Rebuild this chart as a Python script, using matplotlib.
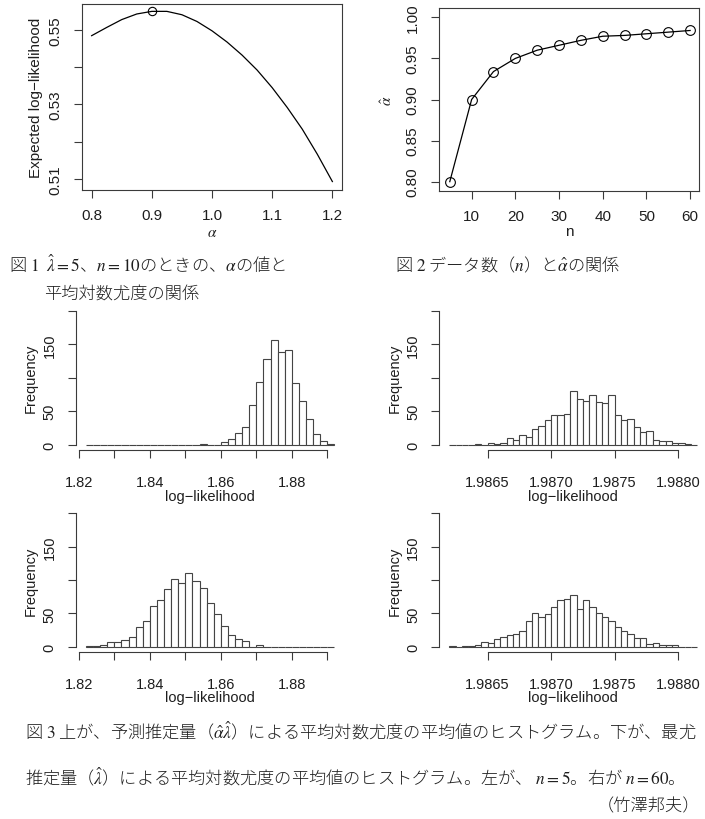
import numpy as np
import matplotlib.pyplot as plt

plt.rcParams["font.family"] = ["Liberation Sans", "DejaVu Sans"]
plt.rcParams["mathtext.fontset"] = "stix"

# Fig 1: expected log-likelihood vs alpha (lambda-hat = 5, n = 10)
alpha = [0.800, 0.825, 0.850, 0.875, 0.900, 0.925, 0.950, 0.975,
         1.000, 1.025, 1.050, 1.075, 1.100, 1.125, 1.150, 1.175, 1.200]
exp_ll = [0.5484, 0.5506, 0.5527, 0.5542, 0.5549, 0.5549, 0.5540, 0.5522,
          0.5497, 0.5467, 0.5432, 0.5392, 0.5345, 0.5292, 0.5234, 0.5167, 0.5094]
alpha_best = 0.9
exp_ll_best = 0.5549

# Fig 2: number of data n vs alpha-hat
n_data = [5, 10, 15, 20, 25, 30, 35, 40, 45, 50, 55, 60]
alpha_hat = [0.800, 0.900, 0.934, 0.950, 0.960, 0.966, 0.972, 0.977, 0.978, 0.980, 0.982, 0.984]

# Fig 3: histograms of mean log-likelihood (bin counts)
left_lo, left_w = 1.822, 0.002      # n = 5
right_lo, right_w = 1.98620, 0.00005  # n = 60
cnt_n5_pred = [0, 0, 0, 0, 0, 0, 0, 0, 0, 0, 0, 0, 0, 0, 0, 0,
               1, 0, 0, 4, 9, 18, 27, 60, 93, 128, 157, 139, 142, 92, 65, 39, 16, 5, 1]
cnt_n5_mle = [1, 1, 2, 7, 7, 10, 14, 30, 38, 61, 70, 86, 101, 95, 110, 98, 88, 66, 49,
              31, 18, 11, 8, 0, 2, 0, 0, 0, 0, 0, 0, 0, 0, 0, 0]
cnt_n60_pred = [0, 0, 0, 0, 1, 0, 3, 1, 3, 10, 7, 15, 11, 24, 28, 37, 45, 45, 46, 81,
                69, 66, 75, 64, 62, 75, 45, 37, 39, 26, 19, 21, 7, 5, 5, 2, 3, 1, 0]
cnt_n60_mle = [1, 0, 1, 1, 2, 7, 6, 11, 15, 17, 19, 23, 38, 51, 45, 49, 59, 70, 72, 78,
               56, 70, 59, 51, 45, 39, 29, 24, 19, 13, 13, 4, 5, 3, 2, 2, 0, 0, 0]

W, H = 705, 820
fig = plt.figure(figsize=(W / 100, H / 100), dpi=100)

line_c = '#3a3a3a'
text_c = '#1e1e1e'


def px_axes(x0, x1, y0, y1):
    return fig.add_axes([x0 / W, 1 - y1 / H, (x1 - x0) / W, (y1 - y0) / H])


def style(ax, fs, xpad, ypad):
    ax.tick_params(direction='out', length=5.8, width=0.8, colors=line_c,
                   labelcolor=text_c, labelsize=fs)
    ax.tick_params(axis='x', pad=xpad)
    ax.tick_params(axis='y', pad=ypad)
    for s in ax.spines.values():
        s.set_color(line_c)
        s.set_linewidth(0.8)
    for lab in ax.get_yticklabels():
        lab.set_rotation(90)
        lab.set_va('center')


def place_labels(ax, xl, yl, fs, ycoord, xcoord):
    ax.set_ylabel(yl, fontsize=fs, color=text_c)
    ax.yaxis.set_label_coords(ycoord, 0.5)
    ax.yaxis.label.set_va('center')
    ax.set_xlabel(xl, fontsize=fs, color=text_c)
    ax.xaxis.set_label_coords(0.5, xcoord)
    ax.xaxis.label.set_va('center')


# ---- Fig 1
ax = px_axes(82, 342, 4.7, 190.7)
ax.plot(alpha, exp_ll, color='black', lw=0.9)
ax.plot([alpha_best], [exp_ll_best], 'o', mfc='none', mec='black', ms=6, mew=0.8)
ax.set_xlim(0.784, 1.216)
ax.set_ylim(0.50722, 0.55695)
ax.set_xticks([0.8, 0.9, 1.0, 1.1, 1.2])
ax.set_xticklabels(['0.8', '0.9', '1.0', '1.1', '1.2'])
ax.set_yticks([0.51, 0.52, 0.53, 0.54, 0.55])
ax.set_yticklabels(['0.51', '', '0.53', '', '0.55'])
style(ax, 11, 7.5, 8.5)
place_labels(ax, r'$\alpha$', 'Expected log\u2212likelihood', 11, -0.177, -0.225)

# ---- Fig 2
ax = px_axes(439.3, 699.3, 9.3, 191.7)
ax.plot(n_data, alpha_hat, '-o', color='black', lw=0.9, mfc='none', ms=7, mew=0.8)
ax.set_xlim(2.6, 62.1)
ax.set_ylim(0.789, 1.011)
ax.set_xticks([10, 20, 30, 40, 50, 60])
ax.set_yticks([0.80, 0.85, 0.90, 0.95, 1.00])
ax.set_yticklabels(['0.80', '0.85', '0.90', '0.95', '1.00'])
style(ax, 11, 7.5, 8.5)
place_labels(ax, 'n', r'$\hat{\alpha}$', 11, -0.2, -0.22)


# ---- Fig 3 histograms
def hist_panel(x0, x1, y0, y1, lo, w, counts, xlim, xt, xtl):
    ax = px_axes(x0, x1, y0, y1)
    edges = lo + w * np.arange(len(counts))
    ax.bar(edges, counts, width=w, align='edge', color='white',
           edgecolor='#444444', linewidth=0.8)
    ax.set_xlim(*xlim)
    ax.set_ylim(-8, 208)
    ax.set_xticks(xt)
    ax.set_xticklabels(xtl)
    ax.set_yticks([0, 50, 100, 150, 200])
    ax.set_yticklabels(['0', '50', '', '150', ''])
    for s in ['top', 'right']:
        ax.spines[s].set_visible(False)
    ax.spines['left'].set_bounds(0, 200)
    ax.spines['bottom'].set_bounds(xt[0], xt[-1])
    style(ax, 10.5, 12, 8)
    place_labels(ax, 'log\u2212likelihood', 'Frequency', 10.5, -0.168, -0.315)


lt = [1.82, 1.83, 1.84, 1.85, 1.86, 1.87, 1.88, 1.89]
ltl = ['1.82', '', '1.84', '', '1.86', '', '1.88', '']
rt = [1.9865, 1.9870, 1.9875, 1.9880]
rtl = ['1.9865', '1.9870', '1.9875', '1.9880']

hist_panel(76, 344.4, 306.5, 451.1, left_lo, left_w, cnt_n5_pred, (1.8192, 1.8948), lt, ltl)
hist_panel(439.5, 707.2, 306.5, 451.1, right_lo, right_w, cnt_n60_pred, (1.986122, 1.988228), rt, rtl)
hist_panel(76, 344.4, 509.0, 653.0, left_lo, left_w, cnt_n5_mle, (1.8192, 1.8948), lt, ltl)
hist_panel(439.5, 707.2, 509.0, 653.0, right_lo, right_w, cnt_n60_mle, (1.986122, 1.988228), rt, rtl)

# ---- captions
jp = ['Noto Sans CJK JP', 'DejaVu Sans']
cap_fs = 12.4


def cap(x, y, s, ha='left'):
    fig.text(x / W, 1 - y / H, s, family=jp, fontsize=cap_fs, color=text_c,
             ha=ha, va='center', fontweight='light')


cap(9, 265, r'図 $\mathrm{1}$  $\hat{\lambda}=5$、$n=10$のときの、$\alpha$の値と')
cap(44, 295, '平均対数尤度の関係')
cap(395, 265, r'図 $\mathrm{2}$ データ数（$n$）と$\hat{\alpha}$の関係')
cap(25, 731, r'図 $\mathrm{3}$ 上が、予測推定量（$\hat{\alpha}\hat{\lambda}$）による平均対数尤度の平均値のヒストグラム。下が、最尤')
cap(25, 777, r'推定量（$\hat{\lambda}$）による平均対数尤度の平均値のヒストグラム。左が、 $n=5$。右が $n=60$。')
cap(700, 806, '（竹澤邦夫）', ha='right')

fig.savefig('out.png', dpi=100)
